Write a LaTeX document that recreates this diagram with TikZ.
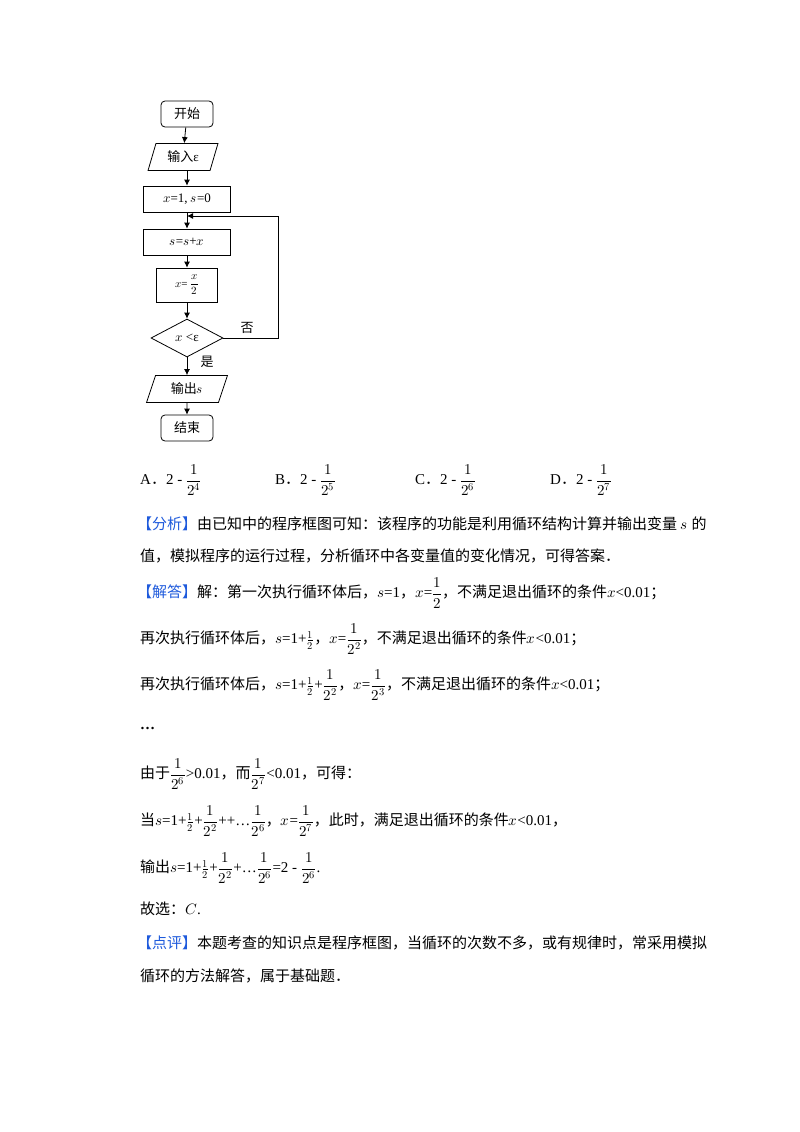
\documentclass[tikz,border=0pt]{standalone}
\usepackage{fontspec}
\usepackage{unicode-math}
\setmainfont{Liberation Serif}
\setmathfont{Latin Modern Math}
\newfontfamily\cjk{Noto Sans CJK SC}
\usetikzlibrary{shapes.geometric,arrows.meta}
\definecolor{lblue}{RGB}{30,90,220}
\newcommand{\C}[1]{{\cjk #1}}
\newcommand{\lab}[1]{{\cjk\color{lblue}【#1】}}
\newcommand{\df}[2]{{\displaystyle\frac{#1}{#2}}}
\newcommand{\hf}[2]{$\frac{#1}{#2}$}
\begin{document}
\fontsize{15}{18}\selectfont
\begin{tikzpicture}[x=1pt,y=-1pt,
  box/.style={draw,line width=0.8pt,minimum height=26pt,inner sep=2pt,font=\fontsize{13}{15}\selectfont},
  rbox/.style={box,rounded corners=4pt,minimum width=52pt},
  para/.style={box,trapezium,trapezium left angle=72,trapezium right angle=108,trapezium stretches=true,minimum height=27pt},
  dia/.style={draw,line width=0.8pt,diamond,aspect=1.9,minimum width=72pt,minimum height=38pt,inner sep=0pt,font=\fontsize{13}{15}\selectfont},
  arr/.style={-{Latex[length=6pt,width=6pt]},line width=0.8pt},
  txt/.style={anchor=west,inner sep=0pt,font=\fontsize{15}{18}\selectfont}]
\useasboundingbox (0,0) rectangle (800,1132);
\fill[white] (0,0) rectangle (800,1132);
\node[rbox] (st) at (187,114) {\C{开始}};
\node[para,minimum width=70pt] (in) at (183,157) {\C{输入}ε};
\node[box,minimum width=87pt] (init) at (187,199) {$x$=1, $s$=0};
\node[box,minimum width=87pt] (sum) at (187,242) {$s$=$s$+$x$};
\node[box,minimum width=61pt,minimum height=34pt,inner sep=1pt,font=\fontsize{11}{13}\selectfont] (half) at (187,285) {$x$= $\df{x}{2}$};
\node[dia] (cond) at (187,338) {$x$ <ε};
\node[para,minimum width=81pt] (out) at (187,389) {\C{输出}$s$};
\node[rbox] (end) at (187,428) {\C{结束}};
\coordinate (j) at (187,216);
\coordinate (r1) at (278,338);
\coordinate (r2) at (278,216);
\draw[arr] (st) -- (in);
\draw[arr] (in.south -| st) -- (init);
\draw[arr] (init) -- (sum);
\draw[arr] (sum) -- (half);
\draw[arr] (half) -- (cond);
\draw[arr] (cond) -- (out);
\draw[arr] (out) -- (end);
\draw[arr] (cond.east) -- (r1) -- (r2) -- (j);
\node[font=\cjk\fontsize{13}{15}\selectfont] (no) at (247,328) {否};
\node[font=\cjk\fontsize{13}{15}\selectfont] (yes) at (207,362) {是};
% options
\node[txt] (oa) at (140,480) {A\C{．}2 - $\df{1}{2^4}$};
\node[txt] (ob) at (275,480) {B\C{．}2 - $\df{1}{2^5}$};
\node[txt] (oc) at (415,480) {C\C{．}2 - $\df{1}{2^6}$};
\node[txt] (od) at (550,480) {D\C{．}2 - $\df{1}{2^7}$};
\node[txt] (l1) at (137,524) {\lab{分析}\C{由已知中的程序框图可知：该程序的功能是利用循环结构计算并输出变量} $s$ \C{的}};
\node[txt] (l2) at (140,556) {\C{值，模拟程序的运行过程，分析循环中各变量值的变化情况，可得答案．}};
\node[txt] (l3) at (137,593) {\lab{解答}\C{解：第一次执行循环体后，}$s$=1\C{，}$x$=$\df{1}{2}$\C{，不满足退出循环的条件}$x$<0.01\C{；}};
\node[txt] (l4) at (140,639) {\C{再次执行循环体后，}$s$=1+\hf{1}{2}\C{，}$x$=$\df{1}{2^2}$\C{，不满足退出循环的条件}$x$<0.01\C{；}};
\node[txt] (l5) at (140,685) {\C{再次执行循环体后，}$s$=1+\hf{1}{2}+$\df{1}{2^2}$\C{，}$x$=$\df{1}{2^3}$\C{，不满足退出循环的条件}$x$<0.01\C{；}};
\node[txt] (l6) at (140,728) {\textbf{…}};
\node[txt] (l7) at (140,774) {\C{由于}$\df{1}{2^6}$>0.01\C{，而}$\df{1}{2^7}$<0.01\C{，可得：}};
\node[txt] (l8) at (140,821) {\C{当}$s$=1+\hf{1}{2}+$\df{1}{2^2}$++…$\df{1}{2^6}$\C{，}$x$=$\df{1}{2^7}$\C{，此时，满足退出循环的条件}$x$<0.01\C{，}};
\node[txt] (l9) at (140,868) {\C{输出}$s$=1+\hf{1}{2}+$\df{1}{2^2}$+…$\df{1}{2^6}$=2 - $\df{1}{2^6}$.};
\node[txt] (l10) at (140,909) {\C{故选：}$C$.};
\node[txt] (l11) at (137,943) {\lab{点评}\C{本题考查的知识点是程序框图，当循环的次数不多，或有规律时，常采用模拟}};
\node[txt] (l12) at (140,976) {\C{循环的方法解答，属于基础题．}};
\end{tikzpicture}
\end{document}
